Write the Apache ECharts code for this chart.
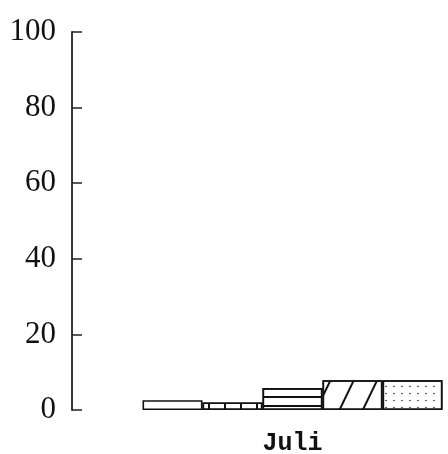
<!DOCTYPE html>
<html>
<head>
<meta charset="utf-8">
<script src="https://cdn.jsdelivr.net/npm/echarts@6/dist/echarts.min.js"></script>
<style>
html,body{margin:0;padding:0;background:#fff;}
#c{width:448px;height:454px;}
</style>
</head>
<body>
<div id="c"></div>
<script>
const categories = ['Juli'];
const yTicks = [0, 20, 40, 60, 80, 100];
const seriesNames = ['S1', 'S2', 'S3', 'S4', 'S5'];
const valuesS1 = [2.6];
const valuesS2 = [2.0];
const valuesS3 = [5.8];
const valuesS4 = [7.9];
const valuesS5 = [7.9];
const allValues = [valuesS1, valuesS2, valuesS3, valuesS4, valuesS5];

const decals = [
  null,
  { symbol: 'rect', color: '#111', dashArrayX: [1.5, 14], dashArrayY: [10, 0], rotation: 0 },
  { symbol: 'rect', color: '#111', dashArrayX: [10, 0], dashArrayY: [1.5, 6.5], rotation: 0 },
  { symbol: 'rect', color: '#111', dashArrayX: [1.5, 19], dashArrayY: [10, 0], rotation: 0.45 },
  { symbol: 'circle', color: '#111', symbolSize: 0.5, dashArrayX: [4, 4], dashArrayY: [3, 4], rotation: 0 }
];

const chart = echarts.init(document.getElementById('c'), null, { renderer: 'canvas' });
chart.setOption({
  animation: false,
  backgroundColor: '#fff',
  grid: { left: 72, right: -65, top: 32, bottom: 44, containLabel: false, outerBoundsMode: 'none' },
  xAxis: {
    type: 'category',
    data: categories,
    axisLine: { show: false },
    axisTick: { show: false },
    axisLabel: { margin: 21, color: '#111', fontFamily: 'Liberation Mono', fontWeight: 'bold', fontSize: 25 }
  },
  yAxis: {
    type: 'value',
    min: yTicks[0],
    max: yTicks[yTicks.length - 1],
    interval: 20,
    splitLine: { show: false },
    axisLine: { show: true, lineStyle: { color: '#222', width: 1.8 } },
    axisTick: { show: true, inside: true, length: 10, lineStyle: { color: '#222', width: 1.5 } },
    axisLabel: { margin: 16, color: '#111', fontFamily: 'Liberation Serif', fontSize: 31 }
  },
  series: allValues.map((vals, i) => ({
    name: seriesNames[i],
    type: 'bar',
    data: vals,
    barWidth: 60,
    barGap: '0%',
    itemStyle: Object.assign({
      color: '#fff',
      borderColor: '#111',
      borderWidth: 1.6
    }, decals[i] ? { decal: decals[i] } : {})
  }))
});
</script>
</body>
</html>
